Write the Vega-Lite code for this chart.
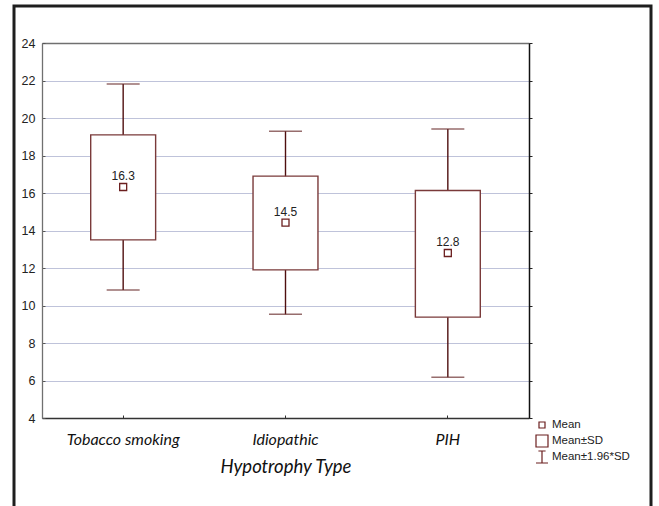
{
  "$schema": "https://vega.github.io/schema/vega-lite/v6.json",
  "width": 637,
  "height": 503,
  "autosize": {"type": "none"},
  "padding": {"left": 14, "top": 6, "right": 8, "bottom": -3},
  "background": "white",
  "data": {
    "values": [
      {"cat": "Tobacco smoking", "mean": 16.32, "sd_lo": 13.5, "sd_hi": 19.1, "lo": 10.83, "hi": 21.82, "label": "16.3"},
      {"cat": "Idiopathic", "mean": 14.42, "sd_lo": 11.9, "sd_hi": 16.9, "lo": 9.53, "hi": 19.3, "label": "14.5"},
      {"cat": "PIH", "mean": 12.8, "sd_lo": 9.38, "sd_hi": 16.13, "lo": 6.18, "hi": 19.42, "label": "12.8"}
    ]
  },
  "resolve": {"axis": {"x": "independent", "y": "independent"}},
  "layer": [
    {
      "mark": {"type": "rule", "color": "#4f0f0f", "strokeWidth": 1.4},
      "encoding": {
        "x": {
          "field": "cat", "type": "nominal", "sort": null,
          "scale": {"range": [28, 515], "paddingInner": 0, "paddingOuter": 0},
          "axis": {
            "orient": "bottom", "offset": -91, "title": "Hypotrophy Type",
            "labelAngle": 0, "labelFont": "Lato", "labelFontStyle": "italic", "labelFontSize": 16,
            "labelColor": "#111", "labelPadding": 16,
            "titleFont": "Lato", "titleFontStyle": "italic", "titleFontSize": 18.5, "titleFontWeight": "normal",
            "titleColor": "#111", "titlePadding": 10,
            "domainColor": "#333", "domainWidth": 1.3, "tickColor": "#333", "tickSize": -3, "grid": false
          }
        },
        "y": {
          "field": "lo", "type": "quantitative",
          "scale": {"domain": [4, 24], "range": [412, 37], "nice": false, "zero": false},
          "axis": {
            "orient": "left", "offset": -28, "title": null,
            "values": [4, 6, 8, 10, 12, 14, 16, 18, 20, 22, 24],
            "labelFont": "Liberation Sans", "labelFontSize": 12.5, "labelColor": "#222", "labelPadding": 10,
            "domainColor": "#707070", "domainWidth": 1.3, "tickColor": "#555", "tickSize": -3,
            "grid": true, "gridColor": "#7f86b4", "gridDash": [1, 1], "gridWidth": 1, "gridOpacity": 1
          }
        },
        "y2": {"field": "hi"}
      }
    },
    {
      "mark": {"type": "bar", "fill": "white", "stroke": "#7a3a3a", "strokeWidth": 1.4, "width": {"band": 0.4}},
      "encoding": {
        "x": {"field": "cat", "type": "nominal", "sort": null, "axis": null},
        "y": {"field": "sd_lo", "type": "quantitative", "axis": null},
        "y2": {"field": "sd_hi"}
      }
    },
    {
      "mark": {"type": "tick", "color": "#6b2f2f", "size": 33, "thickness": 1.5},
      "encoding": {
        "x": {"field": "cat", "type": "nominal", "sort": null, "axis": null},
        "y": {"field": "hi", "type": "quantitative", "axis": null}
      }
    },
    {
      "mark": {"type": "tick", "color": "#6b2f2f", "size": 33, "thickness": 1.5},
      "encoding": {
        "x": {
          "field": "cat", "type": "nominal", "sort": null,
          "axis": {"orient": "top", "offset": -37, "title": null, "labels": false, "ticks": false,
                   "domainColor": "#707070", "domainWidth": 1.3, "grid": false}
        },
        "y": {
          "field": "lo", "type": "quantitative",
          "axis": {"orient": "right", "offset": -122, "title": null, "labels": false,
                   "values": [4, 6, 8, 10, 12, 14, 16, 18, 20, 22, 24],
                   "ticks": true, "tickSize": 3, "tickColor": "#222",
                   "domainColor": "#111", "domainWidth": 1.5, "grid": false}
        }
      }
    },
    {
      "mark": {"type": "point", "filled": false, "stroke": "#6b1f1f", "strokeWidth": 1.3, "size": 196, "opacity": 1},
      "encoding": {
        "x": {"field": "cat", "type": "nominal", "sort": null, "axis": null},
        "y": {"field": "mean", "type": "quantitative", "axis": null},
        "shape": {
          "datum": "Mean", "type": "nominal",
          "scale": {
            "domain": ["Mean", "Mean±SD", "Mean±1.96*SD"],
            "range": ["M-0.5,-0.5L0.5,-0.5L0.5,0.5L-0.5,0.5Z", "M-1,-1L1,-1L1,1L-1,1Z", "M-0.6,-1L0.6,-1M0,-1L0,1M-1,1L1,1"]
          },
          "legend": {
            "orient": "none", "legendX": 521, "legendY": 412, "title": null, "padding": 0,
            "symbolSize": 144, "symbolStrokeWidth": 1.2, "symbolStrokeColor": "#6b1f1f",
            "symbolFillColor": "transparent", "gridAlign": "all",
            "labelFont": "Liberation Sans", "labelFontSize": 11.5, "labelColor": "#222",
            "rowPadding": -3.5, "labelOffset": 3
          }
        }
      }
    },
    {
      "mark": {"type": "text", "dy": -11, "fontSize": 12, "font": "Liberation Sans", "color": "#222"},
      "encoding": {
        "x": {"field": "cat", "type": "nominal", "sort": null, "axis": null},
        "y": {"field": "mean", "type": "quantitative", "axis": null},
        "text": {"field": "label"}
      }
    }
  ],
  "config": {
    "view": {"stroke": "#1e1e1e", "strokeWidth": 3}
  }
}
